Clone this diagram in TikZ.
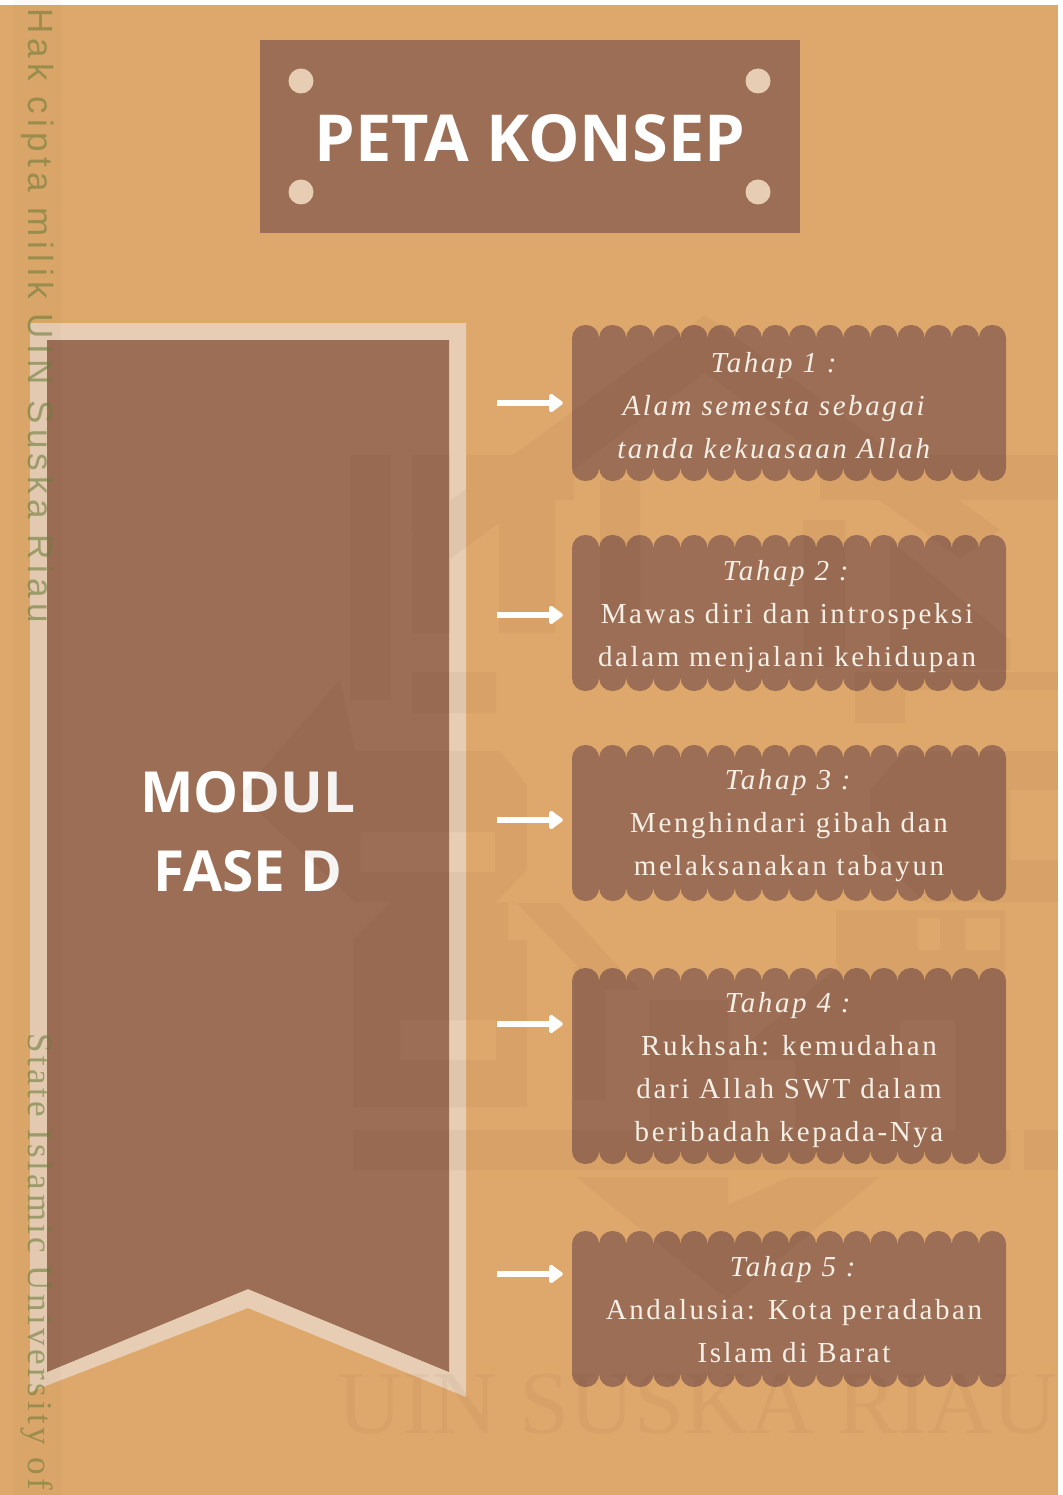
\documentclass[tikz,border=0pt]{standalone}
\usepackage{fontspec}
\setmainfont{Liberation Serif}
\newfontfamily\titlefont{Open Sans}
\newfontfamily\boxfont[LetterSpace=9]{Liberation Serif}
\newfontfamily\marksans[LetterSpace=15.5]{Liberation Sans}
\newfontfamily\markserif[LetterSpace=10]{Liberation Serif}
\definecolor{pagebg}{RGB}{222,168,108}
\definecolor{brownbox}{RGB}{155,110,85}
\definecolor{paleedge}{RGB}{230,205,180}
\definecolor{inktext}{RGB}{246,239,230}
\definecolor{olive}{RGB}{110,125,60}
\definecolor{wmark}{RGB}{90,50,20}
\usetikzlibrary{arrows.meta}
\tikzset{
  boxtext/.style={text=inktext,font=\boxfont\fontsize{29}{43}\selectfont,align=center,inner sep=0pt},
  headtext/.style={text=white,font=\titlefont\bfseries\fontsize{64.8}{64.8}\selectfont,inner sep=0pt},
  ribtext/.style={text=white,font=\titlefont\bfseries\fontsize{56.7}{79}\selectfont,align=center,inner sep=0pt},
  marktext/.style={text=olive,text opacity=.6,rotate=-90,inner sep=0pt},
  flow/.style={draw=white,line width=6pt,-{Triangle[length=15pt,width=21pt,round]},shorten >=9pt},
  shapebox/.style={draw=none,inner sep=0pt,minimum width=434pt,minimum height=#1},
}
\newcommand{\scallop}[3]{% name, top, bottom
  \fill[brownbox] (572,#2+12) rectangle (1006,#3-12);
  \foreach \k in {0,...,15}{
    \fill[brownbox,rounded corners=13pt] ({572+27.125*\k},#2) rectangle ({572+27.125*(\k+1)},#3);
  }
  \node[shapebox={(#3-#2)*1pt}] (#1) at (789,{(#2+#3)/2}) {};
}
\begin{document}
\begin{tikzpicture}[x=1pt,y=-1pt]
\useasboundingbox (0,0) rectangle (1062,1495);
\fill[white] (0,0) rectangle (1062,1495);
\fill[pagebg] (0,5) rectangle (1058,1495);
% ribbon and header
\fill[paleedge] (30,323) -- (466,323) -- (466,1397) -- (248,1308) -- (30,1392) -- cycle;
\fill[brownbox] (47,340) -- (449,340) -- (449,1372) -- (248,1289) -- (47,1372) -- cycle;
\fill[brownbox] (260,40) rectangle (800,233);
\foreach \p in {(301,81),(758,81),(301,192),(758,192)}{\fill[paleedge] \p circle (12.5);}
\node[headtext] (title) at (530,138) {PETA KONSEP};
\node[ribtext] (modul) at (248,832) {MODUL\\FASE D};
% boxes
\scallop{b1}{325}{481}
\scallop{b2}{535}{691}
\scallop{b3}{745}{901}
\scallop{b4}{968}{1164}
\scallop{b5}{1231}{1387}
% watermark
\begin{scope}[transparency group,opacity=.05]
\fill[wmark] (350,455) rectangle (391,700);
\fill[wmark] (412,455) rectangle (450,633);
\fill[wmark] (412,672) rectangle (496,713);
\fill[wmark] (466,455) rectangle (574,500);
\fill[wmark] (499,500) rectangle (555,633);
\fill[wmark] (820,455) rectangle (1058,500);
\fill[wmark] (803,520) rectangle (845,667);
\fill[wmark] (890,540) -- (1010,640) -- (1010,670) -- (890,670) -- cycle;
\fill[wmark] (855,672) rectangle (905,723);
\fill[wmark] (905,672) rectangle (1058,690);
\fill[wmark] (600,480) rectangle (640,620);
\fill[wmark] (705,315) -- (1000,530) -- (960,559) -- (705,373) -- (450,559) -- (410,530) -- cycle;
\fill[wmark,even odd rule] (355,751) -- (500,751) -- (527,785) -- (527,870) -- (496,902) -- (355,902) -- (240,795) -- (340,680) -- cycle
  (360,832) rectangle (495,872);
\fill[wmark,even odd rule] (905,751) -- (1058,751) -- (1058,902) -- (925,902) -- (870,850) -- (870,790) -- cycle
  (1010,790) rectangle (1058,860);
\fill[wmark,even odd rule] (353,1107) -- (527,1107) -- (527,940) -- (508,940) -- (508,902) -- (391,902) -- (353,940) -- cycle
  (400,1020) rectangle (496,1060);
\fill[wmark] (353,1130) rectangle (1010,1170);
\fill[wmark] (1024,1130) rectangle (1058,1170);
\fill[wmark] (649,1000) rectangle (728,1133);
\fill[wmark] (728,1060) -- (840,965) -- (1005,965) -- (1005,1133) -- (955,1133) -- (955,1020) -- (900,1020) -- (900,1133) -- (795,1133) -- (795,1060) -- cycle;
\fill[wmark,even odd rule] (836,910) rectangle (1005,965)
  (918,918) rectangle (940,950) (965,918) rectangle (1000,950);
\fill[wmark] (574,967) rectangle (606,1100);
\fill[wmark] (576,1177) -- (728,1177) -- (728,1205) -- (790,1177) -- (880,1177) -- (728,1300) -- cycle;
\fill[wmark] (517,903) -- (560,903) -- (640,990) -- (600,990) -- cycle;
\end{scope}
\node[text=wmark,opacity=.05,font=\fontsize{90}{90}\selectfont,inner sep=0pt,anchor=west] (uin) at (337,1404) {UIN SUSKA RIAU};
% margin
\fill[wmark,opacity=.025] (13,0) rectangle (61,1495);
\node[marktext,font=\marksans\fontsize{35}{35}\selectfont,anchor=base west] (hak) at (28,8) {Hak cipta milik UIN Suska Riau};
\node[marktext,font=\markserif\fontsize{35}{35}\selectfont,anchor=base west] (state) at (28,1033) {State Islamic University of};
% box text
\node[boxtext] (t1) at (775,406) {\textit{Tahap 1 :}\\\textit{Alam semesta sebagai}\\\textit{tanda kekuasaan Allah}};
\node[boxtext] (t2) at (787,617) {\textit{Tahap 2 :}\\Mawas diri dan introspeksi\\dalam menjalani kehidupan};
\node[boxtext] (t3) at (789,826) {\textit{Tahap 3 :}\\Menghindari gibah dan\\melaksanakan tabayun};
\node[boxtext] (t4) at (789,1070) {\textit{Tahap 4 :}\\Rukhsah: kemudahan\\dari Allah SWT dalam\\beribadah kepada-Nya};
\node[boxtext] (t5) at (794,1310) {\textit{Tahap 5 :}\\Andalusia: Kota peradaban\\Islam di Barat};
% arrows
\coordinate (s1) at (497,403);
\coordinate (s2) at (497,615);
\coordinate (s3) at (497,820);
\coordinate (s4) at (497,1024);
\coordinate (s5) at (497,1274);
\foreach \i in {1,...,5}{\draw[flow] (s\i) -- (s\i -| b\i.west);}
\end{tikzpicture}
\end{document}
